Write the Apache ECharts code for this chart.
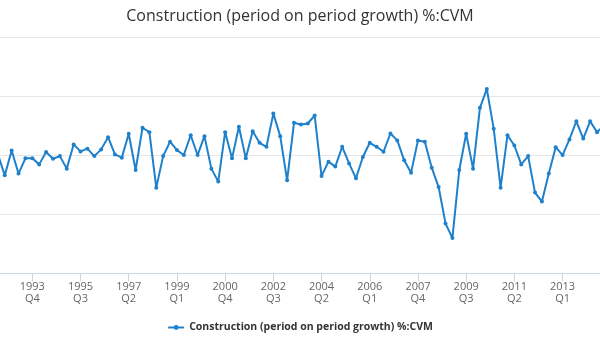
<!DOCTYPE html>
<html>
<head>
<meta charset="utf-8">
<script src="https://cdn.jsdelivr.net/npm/echarts@6/dist/echarts.min.js"></script>
<style>
html,body{margin:0;padding:0;background:#fff;}
#chart{width:600px;height:338px;}
</style>
</head>
<body>
<div id="chart"></div>
<script>
const seriesName = 'Construction (period on period growth) %:CVM';
const startYear = 1992;
const startQuarter = 1;
// quarterly growth, % (1992 Q1 .. 2014 Q3)
const values = [
  null, null, 0.1, -1.69,
  0.42, -1.54, -0.25, -0.25,
  -0.76, 0.28, -0.28, -0.06,
  -1.12, 0.93, 0.34, 0.57,
  -0.06, 0.51, 1.54, 0.08,
  -0.19, 1.83, -1.24, 2.34,
  1.97, -2.73, -0.06, 1.16,
  0.45, 0.03, 1.71, 0.03,
  1.63, -1.12, -2.22, 1.97,
  -0.25, 2.42, -0.25, 2.05,
  1.07, 0.73, 3.54, 1.63,
  -2.11, 2.76, 2.62, 2.70,
  3.38, -1.75, -0.53, -0.95,
  0.73, -0.68, -1.94, -0.14,
  1.07, 0.73, 0.31, 1.86,
  1.27, -0.42, -1.46, 1.27,
  1.16, -1.04, -2.68, -5.76,
  -7.0, -1.24, 1.83, -1.12,
  4.03, 5.63, 2.25, -2.73,
  1.71, 0.84, -0.76, -0.06,
  -3.15, -3.91, -1.54, 0.70,
  0.03, 1.35, 2.89, 1.43,
  2.89, 1.97, 2.53
];
const yTicks = [-10, -5, 0, 5, 10];

const categories = [];
for (let i = 0; i < values.length; i++) {
  const q = startQuarter - 1 + i;
  categories.push((startYear + Math.floor(q / 4)) + '\nQ' + (q % 4 + 1));
}

const chart = echarts.init(document.getElementById('chart'), null, {renderer: 'canvas'});
chart.setOption({
  animation: false,
  backgroundColor: '#ffffff',
  textStyle: {fontFamily: 'Open Sans'},
  title: {
    text: seriesName,
    left: 'center',
    top: 3,
    textStyle: {fontFamily: 'Open Sans', fontSize: 16, fontWeight: 'normal', color: '#333333'}
  },
  legend: {
    bottom: 0,
    left: 'center',
    itemWidth: 16,
    itemHeight: 6,
    itemGap: 4,
    textStyle: {fontFamily: 'Open Sans', fontSize: 10.5, fontWeight: 'bold', color: '#333333'},
    data: [seriesName]
  },
  grid: {left: -15.9, right: -3.9, top: 37.3, bottom: 64.5, containLabel: false, outerBoundsMode: 'none'},
  xAxis: {
    type: 'category',
    data: categories,
    boundaryGap: false,
    axisLine: {onZero: false, lineStyle: {color: '#ccd6eb', width: 1}},
    axisTick: {show: true, interval: 6, length: 8, lineStyle: {color: '#ccd6eb'}},
    axisLabel: {interval: 6, margin: 7, color: '#666666', fontSize: 11, lineHeight: 12, fontFamily: 'Open Sans'},
    splitLine: {show: false}
  },
  yAxis: {
    type: 'value',
    min: yTicks[0],
    max: yTicks[yTicks.length - 1],
    interval: 5,
    axisLabel: {show: false},
    axisLine: {show: false},
    axisTick: {show: false},
    splitLine: {lineStyle: {color: '#e6e6e6', width: 1}}
  },
  series: [{
    name: seriesName,
    type: 'line',
    data: values,
    color: '#1f80cc',
    lineStyle: {width: 2},
    symbol: 'circle',
    symbolSize: 4,
    showSymbol: true,
    connectNulls: false
  }]
});
</script>
</body>
</html>
